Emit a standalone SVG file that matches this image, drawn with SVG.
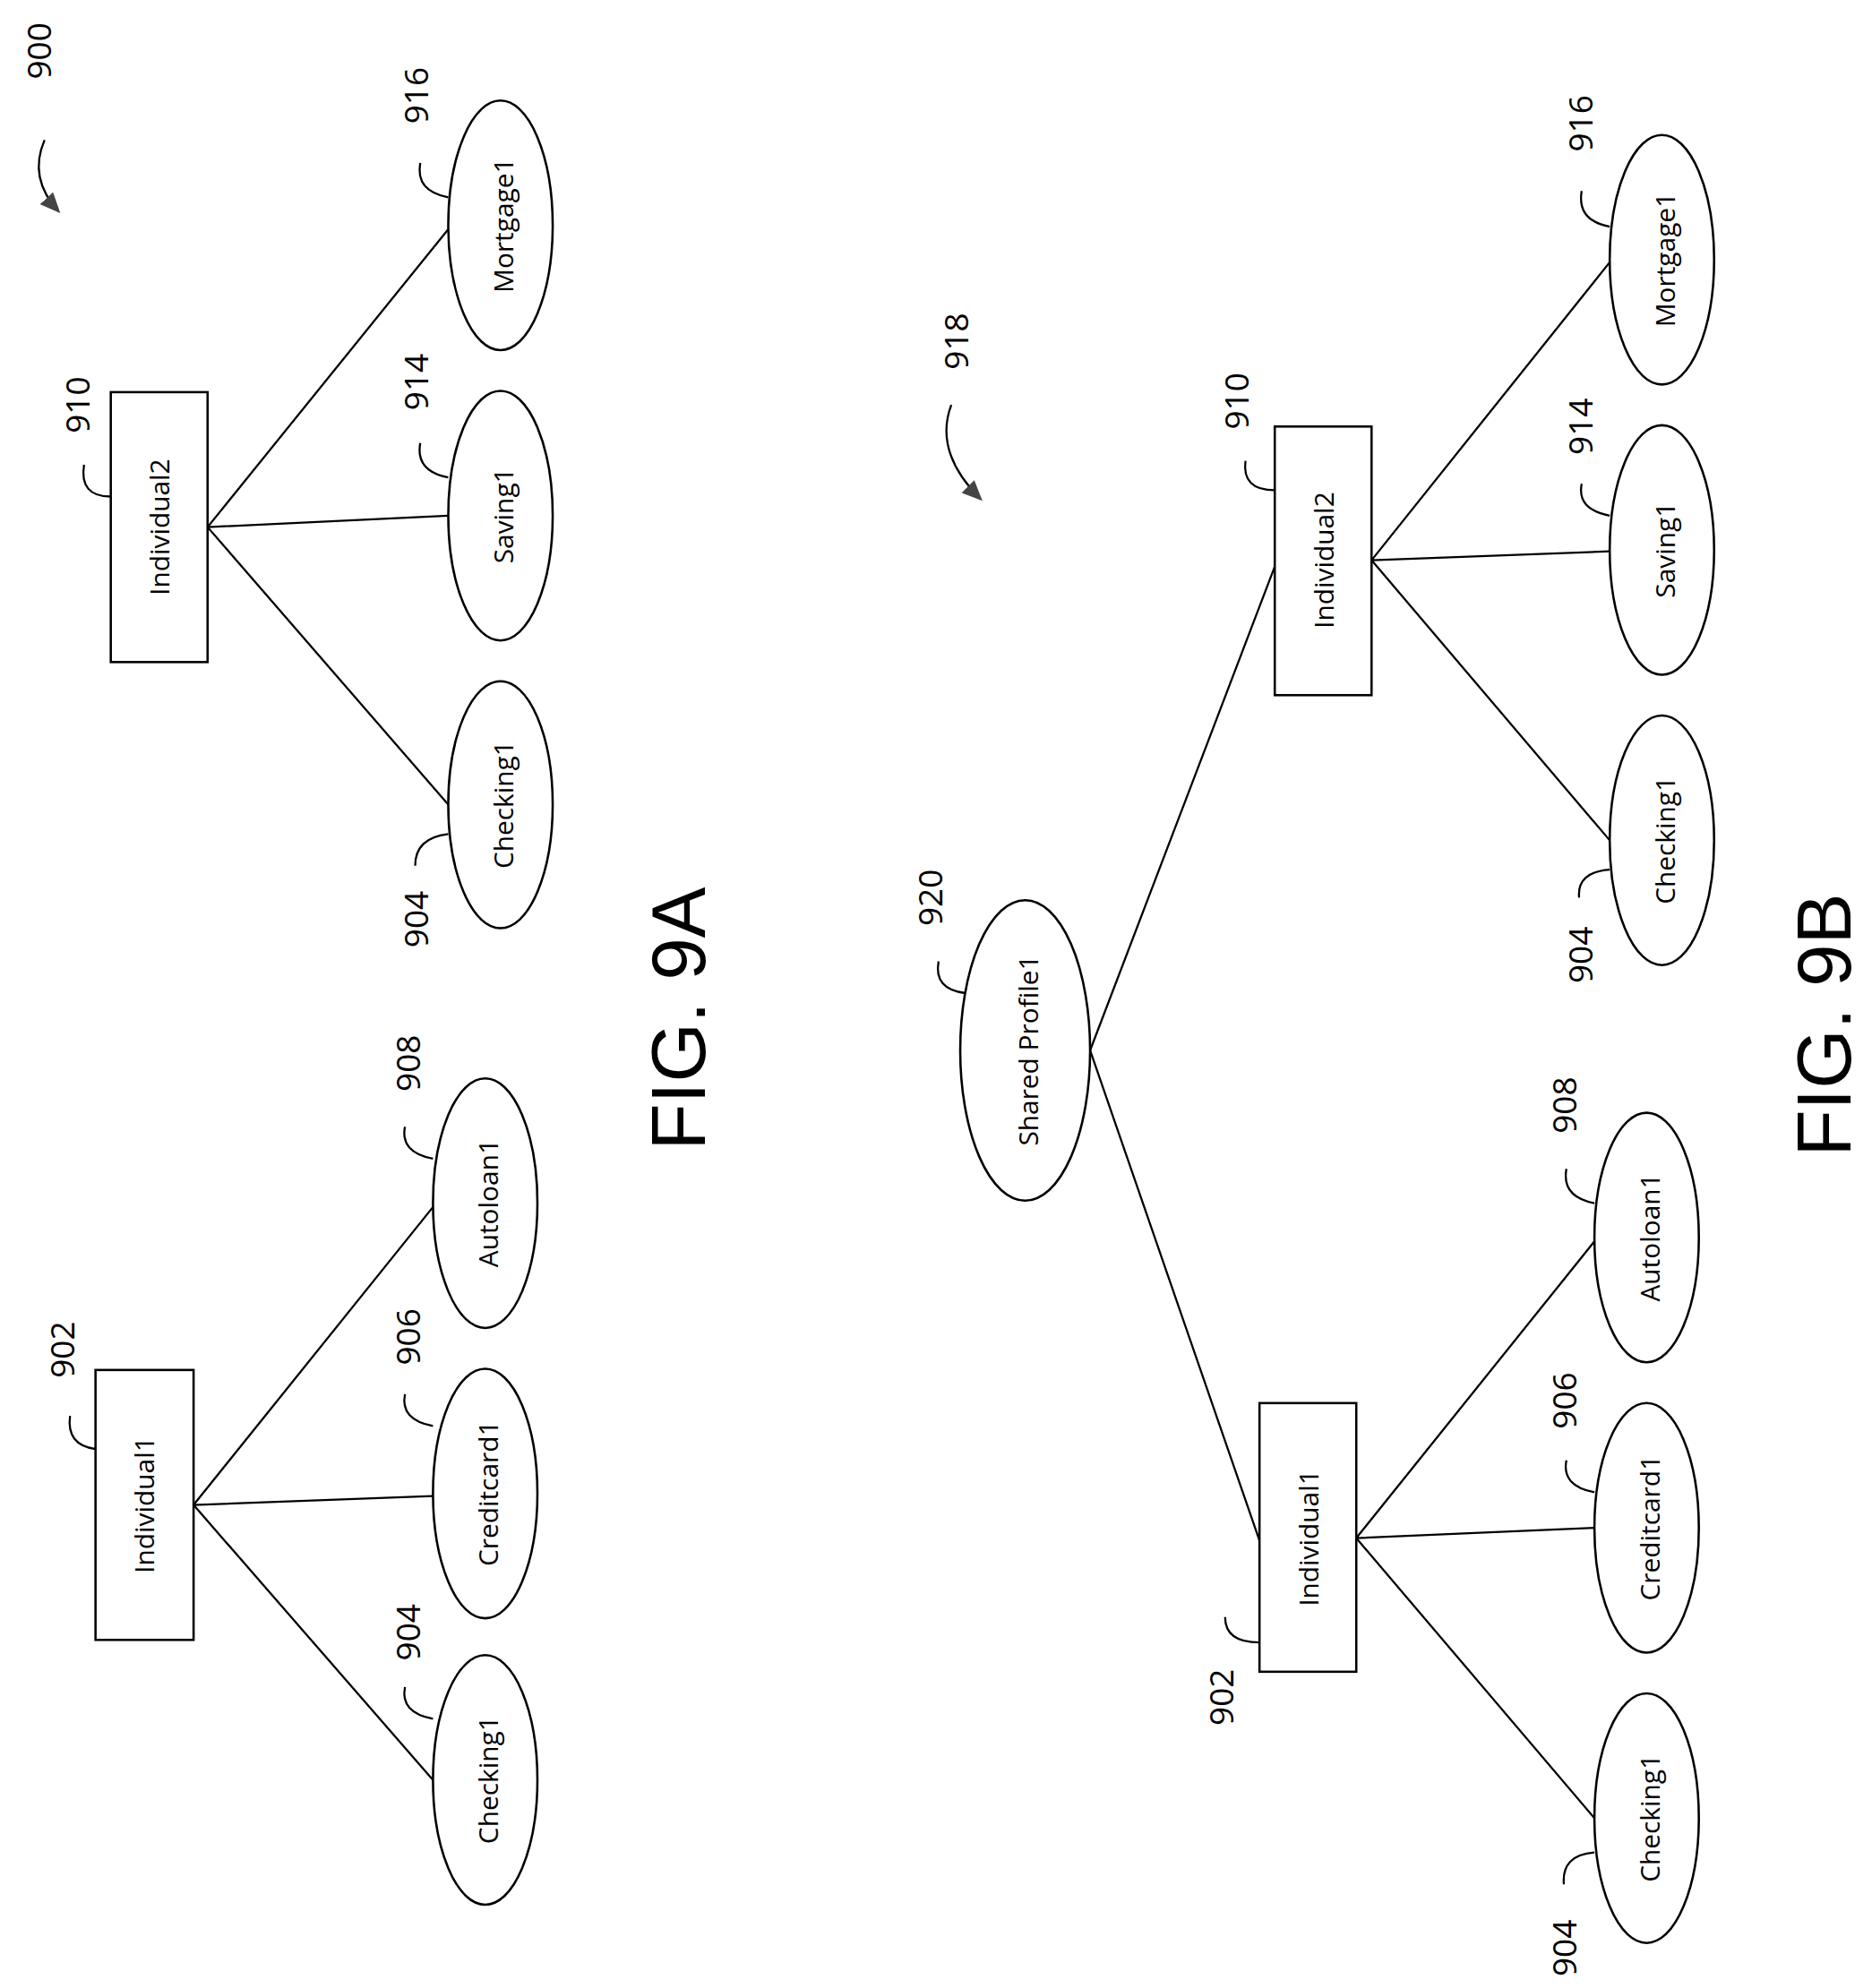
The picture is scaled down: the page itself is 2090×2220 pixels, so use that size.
<svg xmlns="http://www.w3.org/2000/svg" width="2090" height="2220" viewBox="0 0 2090 2220">
<style>
.n{fill:#fff;stroke:#000;stroke-width:1.8}
.c{stroke:#000;stroke-width:1.6;fill:none}
.t{font-family:"Open Sans","Liberation Sans",sans-serif;font-size:21px;text-anchor:middle;dominant-baseline:central}
.l{font-family:"Open Sans","Liberation Sans",sans-serif;font-size:26px;text-anchor:middle;dominant-baseline:central}
.f{font-family:"Liberation Sans",Arial,sans-serif;font-size:60px;text-anchor:middle;dominant-baseline:central}
</style>
<defs><marker id="a" markerWidth="16" markerHeight="14" refX="14" refY="7" orient="auto" markerUnits="userSpaceOnUse"><path d="M0,0L16,7L0,14z" fill="#444"/></marker></defs>
<rect width="2090" height="2220" fill="#fff"/>
<g transform="scale(1.4218)">
<g id="connectors">
<path class="c" d="M163,414L352,180M163,414L352,405M163,414L352,632"/>
<path class="c" d="M152,1182L340,948M152,1182L340,1175M152,1182L340,1398"/>
<path class="c" d="M856,825L1001,445M856,825L989,1210"/>
<path class="c" d="M1077,440L1264,206M1077,440L1264,433M1077,440L1264,660"/>
<path class="c" d="M1065,1208L1252,975M1065,1208L1252,1200M1065,1208L1252,1428"/>
</g>
<g id="ref900"><text class="l" transform="translate(30,40) rotate(-90)">900</text><path class="c" d="M35,110Q22,140 46,166" marker-end="url(#a)"/></g>
<g id="ref918"><text class="l" transform="translate(750,268) rotate(-90)">918</text><path class="c" d="M747,318Q733,355 770,392" marker-end="url(#a)"/></g>
<g id="a910"><rect class="n" x="87" y="308" width="76" height="212"/><text class="t" transform="translate(125,414) rotate(-90)">Individual2</text><text class="l" transform="translate(60,318) rotate(-90)">910</text><path class="c" d="M87,390Q62,390 66,365"/></g>
<g id="a916"><ellipse class="n" cx="393" cy="177" rx="41" ry="98"/><text class="t" transform="translate(395,177) rotate(-90)">Mortgage1</text><text class="l" transform="translate(326,75) rotate(-90)">916</text><path class="c" d="M352,155Q326,150 330,128"/></g>
<g id="a914"><ellipse class="n" cx="393" cy="405" rx="41" ry="98"/><text class="t" transform="translate(395,405) rotate(-90)">Saving1</text><text class="l" transform="translate(326,300) rotate(-90)">914</text><path class="c" d="M352,375Q326,370 330,348"/></g>
<g id="a904"><ellipse class="n" cx="393" cy="632" rx="41" ry="97"/><text class="t" transform="translate(395,632) rotate(-90)">Checking1</text><text class="l" transform="translate(326,722) rotate(-90)">904</text><path class="c" d="M352,655Q326,658 326,680"/></g>
<g id="a902"><rect class="n" x="75" y="1076" width="77" height="212"/><text class="t" transform="translate(113,1182) rotate(-90)">Individual1</text><text class="l" transform="translate(48,1060) rotate(-90)">902</text><path class="c" d="M75,1138Q52,1135 55,1112"/></g>
<g id="a908"><ellipse class="n" cx="381" cy="945" rx="41" ry="98"/><text class="t" transform="translate(383,945) rotate(-90)">Autoloan1</text><text class="l" transform="translate(320,835) rotate(-90)">908</text><path class="c" d="M340,910Q314,905 318,885"/></g>
<g id="a906"><ellipse class="n" cx="381" cy="1173" rx="41" ry="98"/><text class="t" transform="translate(383,1173) rotate(-90)">Creditcard1</text><text class="l" transform="translate(320,1050) rotate(-90)">906</text><path class="c" d="M340,1120Q314,1115 318,1095"/></g>
<g id="a904b"><ellipse class="n" cx="381" cy="1398" rx="41" ry="98"/><text class="t" transform="translate(383,1398) rotate(-90)">Checking1</text><text class="l" transform="translate(320,1282) rotate(-90)">904</text><path class="c" d="M340,1350Q314,1345 318,1325"/></g>
<text class="f" transform="translate(533,800) rotate(-90)">FIG. 9A</text>
<g id="b920"><ellipse class="n" cx="805" cy="825" rx="51" ry="118"/><text class="t" transform="translate(807,825) rotate(-90)">Shared Profile1</text><text class="l" transform="translate(730,705) rotate(-90)">920</text><path class="c" d="M758,780Q733,777 737,755"/></g>
<g id="b910"><rect class="n" x="1001" y="335" width="76" height="211"/><text class="t" transform="translate(1039,440) rotate(-90)">Individual2</text><text class="l" transform="translate(970,315) rotate(-90)">910</text><path class="c" d="M1001,385Q975,385 978,362"/></g>
<g id="b916"><ellipse class="n" cx="1305" cy="204" rx="41" ry="98"/><text class="t" transform="translate(1307,204) rotate(-90)">Mortgage1</text><text class="l" transform="translate(1240,97) rotate(-90)">916</text><path class="c" d="M1264,178Q1238,173 1242,150"/></g>
<g id="b914"><ellipse class="n" cx="1305" cy="432" rx="41" ry="98"/><text class="t" transform="translate(1307,432) rotate(-90)">Saving1</text><text class="l" transform="translate(1240,335) rotate(-90)">914</text><path class="c" d="M1264,405Q1238,400 1242,380"/></g>
<g id="b904"><ellipse class="n" cx="1305" cy="660" rx="41" ry="98"/><text class="t" transform="translate(1307,660) rotate(-90)">Checking1</text><text class="l" transform="translate(1240,750) rotate(-90)">904</text><path class="c" d="M1264,683Q1238,685 1240,705"/></g>
<g id="b902"><rect class="n" x="989" y="1102" width="76" height="211"/><text class="t" transform="translate(1027,1208) rotate(-90)">Individual1</text><text class="l" transform="translate(958,1333) rotate(-90)">902</text><path class="c" d="M989,1290Q962,1290 962,1270"/></g>
<g id="b908"><ellipse class="n" cx="1293" cy="972" rx="41" ry="98"/><text class="t" transform="translate(1295,972) rotate(-90)">Autoloan1</text><text class="l" transform="translate(1228,868) rotate(-90)">908</text><path class="c" d="M1252,945Q1226,940 1230,918"/></g>
<g id="b906"><ellipse class="n" cx="1293" cy="1200" rx="41" ry="98"/><text class="t" transform="translate(1295,1200) rotate(-90)">Creditcard1</text><text class="l" transform="translate(1228,1100) rotate(-90)">906</text><path class="c" d="M1252,1172Q1226,1167 1230,1147"/></g>
<g id="b904b"><ellipse class="n" cx="1293" cy="1428" rx="41" ry="98"/><text class="t" transform="translate(1295,1428) rotate(-90)">Checking1</text><text class="l" transform="translate(1228,1530) rotate(-90)">904</text><path class="c" d="M1252,1455Q1226,1457 1228,1480"/></g>
<text class="f" transform="translate(1432,805) rotate(-90)">FIG. 9B</text>
</g>
</svg>
